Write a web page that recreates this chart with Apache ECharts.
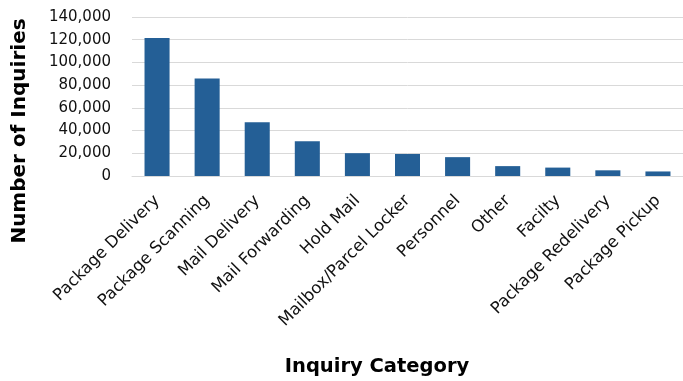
<!DOCTYPE html>
<html>
<head>
<meta charset="utf-8">
<script src="https://cdn.jsdelivr.net/npm/echarts@6/dist/echarts.min.js"></script>
<style>
  html, body { margin: 0; padding: 0; background: #fff; }
  #chart { width: 683px; height: 381px; }
</style>
</head>
<body>
<div id="chart"></div>
<script>
// inquiry categories and counts
var categories = ['Package Delivery', 'Package Scanning', 'Mail Delivery', 'Mail Forwarding',
  'Hold Mail', 'Mailbox/Parcel Locker', 'Personnel', 'Other', 'Facilty',
  'Package Redelivery', 'Package Pickup'];
var inquiries = [121500, 85800, 47400, 30600, 20100, 19400, 16600, 8700, 7400, 5000, 4000];
var yTicks = [0, 20000, 40000, 60000, 80000, 100000, 120000, 140000];

var font = 'DejaVu Sans';
var chart = echarts.init(document.getElementById('chart'), null, { renderer: 'canvas' });

var option = {
  animation: false,
  textStyle: { fontFamily: font },
  grid: {
    left: 132,
    right: 0,
    top: 17,
    bottom: 205
  },
  xAxis: {
    type: 'category',
    data: categories,
    axisTick: { show: false },
    axisLine: { lineStyle: { color: '#d9d9d9', width: 1 } },
    axisLabel: {
      interval: 0,
      rotate: 45,
      margin: 22,
      fontSize: 16.5,
      color: '#111',
      fontFamily: font
    }
  },
  yAxis: {
    type: 'value',
    min: yTicks[0],
    max: yTicks[yTicks.length - 1],
    interval: 20000,
    axisLine: { show: false },
    axisTick: { show: false },
    splitLine: { lineStyle: { color: '#d9d9d9', width: 1 } },
    axisLabel: {
      margin: 21,
      fontSize: 15,
      color: '#111',
      fontFamily: font,
      formatter: function (v) {
        return v.toLocaleString('en-US');
      }
    }
  },
  graphic: [
    {
      type: 'text',
      x: 20,
      y: 131,
      rotation: Math.PI / 2,
      style: {
        text: 'Number of Inquiries',
        fontFamily: font,
        fontWeight: 'bold',
        fontSize: 20,
        fill: '#000',
        align: 'center',
        verticalAlign: 'middle'
      }
    },
    {
      type: 'text',
      x: 377,
      y: 367,
      style: {
        text: 'Inquiry Category',
        fontFamily: font,
        fontWeight: 'bold',
        fontSize: 19.5,
        fill: '#000',
        align: 'center',
        verticalAlign: 'middle'
      }
    }
  ],
  series: [{
    name: 'Number of Inquiries',
    type: 'bar',
    data: inquiries,
    barWidth: '50%',
    itemStyle: { color: '#245f96' }
  }]
};

chart.setOption(option);
</script>
</body>
</html>
